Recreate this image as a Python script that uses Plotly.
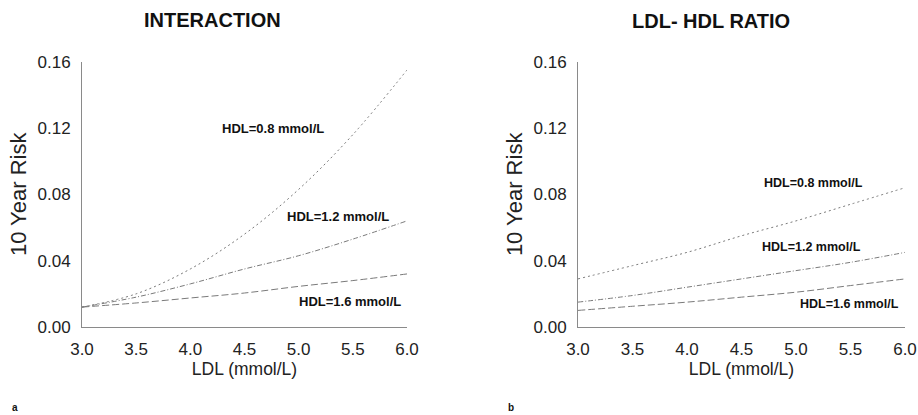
import plotly.graph_objects as go

ldl = [3.0, 3.5, 4.0, 4.5, 5.0, 5.5, 6.0]

# Panel a: INTERACTION
int_hdl08 = [0.012, 0.020, 0.035, 0.056, 0.083, 0.116, 0.155]
int_hdl12 = [0.012, 0.018, 0.026, 0.035, 0.043, 0.053, 0.064]
int_hdl16 = [0.012, 0.0145, 0.0175, 0.0205, 0.0245, 0.028, 0.032]

# Panel b: LDL-HDL RATIO
rat_hdl08 = [0.029, 0.037, 0.045, 0.055, 0.064, 0.074, 0.084]
rat_hdl12 = [0.015, 0.019, 0.024, 0.029, 0.034, 0.039, 0.045]
rat_hdl16 = [0.010, 0.0125, 0.015, 0.018, 0.021, 0.025, 0.029]

series_names = ["HDL=0.8 mmol/L", "HDL=1.2 mmol/L", "HDL=1.6 mmol/L"]
titles = ["INTERACTION", "LDL- HDL RATIO"]
panel_letters = ["a", "b"]
y_ticks = [0.00, 0.04, 0.08, 0.12, 0.16]
x_ticks = [3.0, 3.5, 4.0, 4.5, 5.0, 5.5, 6.0]

# label positions (data coords)
int_label_x = [4.76, 5.36, 5.47]
int_label_y = [0.120, 0.0668, 0.0156]
rat_label_x = [5.16, 5.14, 5.49]
rat_label_y = [0.0868, 0.048, 0.0138]

FONT = "Liberation Sans, Arial, sans-serif"
LINE_COL = "#7a7a7a"
dashes = ["2px,3px", "5px,2px,1px,2px", "7px,3px"]

W, H = 918, 415


def px(x):
    return x / W


def py(y):
    return 1 - y / H


fig = go.Figure()

for i, ys in enumerate([int_hdl08, int_hdl12, int_hdl16]):
    fig.add_trace(go.Scatter(x=ldl, y=ys, mode="lines", line_shape="spline",
                             line=dict(color=LINE_COL, width=1, dash=dashes[i]),
                             xaxis="x", yaxis="y", showlegend=False, hoverinfo="skip"))
for i, ys in enumerate([rat_hdl08, rat_hdl12, rat_hdl16]):
    fig.add_trace(go.Scatter(x=ldl, y=ys, mode="lines", line_shape="spline",
                             line=dict(color=LINE_COL, width=1, dash=dashes[i]),
                             xaxis="x2", yaxis="y2", showlegend=False, hoverinfo="skip"))

axis_common = dict(showline=True, linecolor="#8a8a8a", linewidth=1, showgrid=False,
                   zeroline=False, ticks="outside", tickcolor="rgba(0,0,0,0)", automargin=False,
                   tickfont=dict(family=FONT, size=17, color="#222"))

xa = dict(axis_common, range=[3, 6], tickvals=x_ticks, tickformat=".1f", ticklen=7,
          title=dict(text="LDL (mmol/L)", font=dict(family=FONT, size=17.5, color="#222"), standoff=0))
ya = dict(axis_common, range=[0, 0.16], tickvals=y_ticks, tickformat=".2f", ticklen=7,
          title=dict(text="10 Year Risk", font=dict(family=FONT, size=22, color="#222"), standoff=4))

fig.update_layout(
    width=W, height=H,
    margin=dict(l=0, r=0, t=0, b=0, pad=0, autoexpand=False),
    paper_bgcolor="white", plot_bgcolor="white",
    xaxis=dict(xa, domain=[px(82), px(407)], anchor="y"),
    yaxis=dict(ya, domain=[py(327), py(61.7)], anchor="x"),
    xaxis2=dict(xa, domain=[px(578), px(905)], anchor="y2"),
    yaxis2=dict(ya, domain=[py(327), py(61.7)], anchor="x2"),
)

anns = []
for i in range(3):
    anns.append(dict(x=int_label_x[i], y=int_label_y[i], xref="x", yref="y", text="<b>" + series_names[i] + "</b>",
                     showarrow=False, font=dict(family=FONT, size=13, color="#111"), xanchor="center", yanchor="middle"))
    anns.append(dict(x=rat_label_x[i], y=rat_label_y[i], xref="x2", yref="y2", text="<b>" + series_names[i] + "</b>",
                     showarrow=False, font=dict(family=FONT, size=12.5, color="#111"), xanchor="center", yanchor="middle"))

anns.append(dict(x=px(212), y=py(20), xref="paper", yref="paper", text="<b>" + titles[0] + "</b>",
                 showarrow=False, font=dict(family=FONT, size=20, color="#111"), xanchor="center", yanchor="middle"))
anns.append(dict(x=px(711), y=py(21), xref="paper", yref="paper", text="<b>" + titles[1] + "</b>",
                 showarrow=False, font=dict(family=FONT, size=20, color="#111"), xanchor="center", yanchor="middle"))
anns.append(dict(x=px(15), y=py(407), xref="paper", yref="paper", text="<b>" + panel_letters[0] + "</b>",
                 showarrow=False, font=dict(family=FONT, size=10, color="#111"), xanchor="center", yanchor="middle"))
anns.append(dict(x=px(511), y=py(407), xref="paper", yref="paper", text="<b>" + panel_letters[1] + "</b>",
                 showarrow=False, font=dict(family=FONT, size=10, color="#111"), xanchor="center", yanchor="middle"))

fig.update_layout(annotations=anns)
# remove the browser's default 8px page margin so the 918x415 figure fills the window exactly
fig.write_html("out.html", config={"displayModeBar": False},
               post_script="document.body.style.margin='0';document.body.style.overflow='hidden';")
